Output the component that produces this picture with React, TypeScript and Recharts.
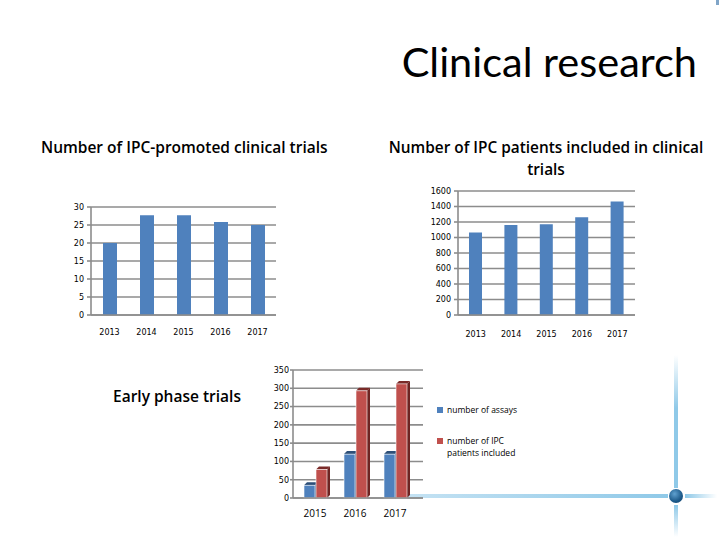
import React from 'react';
import { BarChart, Bar, XAxis, YAxis, CartesianGrid, Legend } from 'recharts';

const years1 = ['2013', '2014', '2015', '2016', '2017'];
const trials = [20, 27.7, 27.7, 25.8, 25];
const ticks1 = [0, 5, 10, 15, 20, 25, 30];

const years2 = ['2013', '2014', '2015', '2016', '2017'];
const patients = [1065, 1160, 1170, 1260, 1465];
const ticks2 = [0, 200, 400, 600, 800, 1000, 1200, 1400, 1600];

const years3 = ['2015', '2016', '2017'];
const assays = [35, 120, 120];
const earlyPatients = [78, 293, 312];
const ticks3 = [0, 50, 100, 150, 200, 250, 300, 350];
const seriesNames3 = ['number of assays', 'number of IPC patients included'];

const data1 = years1.map((y, i) => ({ year: y, v: trials[i] }));
const data2 = years2.map((y, i) => ({ year: y, v: patients[i] }));
const data3 = years3.map((y, i) => ({ year: y, a: assays[i], p: earlyPatients[i] }));

const BLUE = '#4f81bd';
const RED = '#c0504d';
const GRID = '#8c8c8c';
const tickFont = { fontFamily: 'DejaVu Sans', fontSize: 8, fill: '#000' };

const make3D = (fill: string, side: string, top: string) => (props: any) => {
  const { x, y, width, height } = props;
  if (!height || height <= 0) return <g />;
  const d = 3;
  return (
    <g>
      <polygon points={`${x},${y} ${x + d},${y - d} ${x + width + d},${y - d} ${x + width},${y}`} fill={top} />
      <polygon points={`${x + width},${y} ${x + width + d},${y - d} ${x + width + d},${y + height - d} ${x + width},${y + height}`} fill={side} />
      <rect x={x} y={y} width={width} height={height} fill={fill} stroke="#ffffff" strokeWidth={0.6} />
    </g>
  );
};

const BlueShape = make3D(BLUE, '#2d4f78', '#2d4f78');
const RedShape = make3D(RED, '#6e2422', '#7a2a28');

const renderLegend = (props: any) => {
  const payload = [...(props.payload || [])].sort(
    (a: any, b: any) => seriesNames3.indexOf(a.value) - seriesNames3.indexOf(b.value)
  );
  return (
    <div style={{ fontFamily: 'Open Sans', fontSize: 8.5, color: '#000' }}>
      {payload.map((e: any, i: number) => (
        <div key={i} style={{ display: 'flex', alignItems: 'flex-start', marginBottom: 19, width: 90 }}>
          <span style={{ display: 'inline-block', width: 6, height: 6, background: e.color, marginTop: 3, marginRight: 4, flexShrink: 0 }} />
          <span style={{ lineHeight: '12px', width: 72 }}>{e.value}</span>
        </div>
      ))}
    </div>
  );
};

export default function App() {
  return (
    <div style={{ position: 'absolute', left: 0, top: 0, width: 720, height: 540, background: '#fff', overflow: 'hidden' }}>
      <div style={{ position: 'absolute', right: 23, top: 36, fontFamily: 'Lato', fontSize: 41.5, color: '#000', lineHeight: '50px', whiteSpace: 'nowrap' }}>
        Clinical research
      </div>
      <div style={{ position: 'absolute', left: 41, top: 137, fontFamily: 'Open Sans', fontWeight: 600, fontSize: 15.5, lineHeight: '20px', whiteSpace: 'nowrap' }}>
        Number of IPC-promoted clinical trials
      </div>
      <div style={{ position: 'absolute', left: 366, width: 360, top: 137, fontFamily: 'Open Sans', fontWeight: 600, fontSize: 15.4, lineHeight: '22px', textAlign: 'center' }}>
        Number of IPC patients included in clinical<br />trials
      </div>
      <div style={{ position: 'absolute', left: 113, top: 386, fontFamily: 'Open Sans', fontWeight: 600, fontSize: 15.5, lineHeight: '20px', whiteSpace: 'nowrap' }}>
        Early phase trials
      </div>

      <div style={{ position: 'absolute', left: 41, top: 197 }}>
        <BarChart width={245} height={145} data={data1} margin={{ top: 10, right: 10, left: 0, bottom: 0 }}>
          <CartesianGrid vertical={false} stroke={GRID} strokeWidth={1.6} />
          <XAxis dataKey="year" height={27} tick={tickFont} tickLine={false} axisLine={{ stroke: GRID, strokeWidth: 1.6 }} tickMargin={8} />
          <YAxis domain={[0, 30]} ticks={ticks1} width={50} tick={tickFont} tickSize={4} tickMargin={3} tickLine={{ stroke: GRID, strokeWidth: 1.6 }} axisLine={{ stroke: GRID, strokeWidth: 1.6 }} interval={0} />
          <Bar dataKey="v" fill={BLUE} barSize={14} isAnimationActive={false} />
        </BarChart>
      </div>

      <div style={{ position: 'absolute', left: 408, top: 181 }}>
        <BarChart width={237} height={161} data={data2} margin={{ top: 10, right: 10, left: 0, bottom: 0 }}>
          <CartesianGrid vertical={false} stroke={GRID} strokeWidth={1.6} />
          <XAxis dataKey="year" height={27} tick={tickFont} tickLine={false} axisLine={{ stroke: GRID, strokeWidth: 1.6 }} tickMargin={10} />
          <YAxis domain={[0, 1600]} ticks={ticks2} width={50} tick={tickFont} tickSize={4} tickMargin={3} tickLine={{ stroke: GRID, strokeWidth: 1.6 }} axisLine={{ stroke: GRID, strokeWidth: 1.6 }} interval={0} />
          <Bar dataKey="v" fill={BLUE} barSize={13} isAnimationActive={false} />
        </BarChart>
      </div>

      {/* decorative lines (behind chart 3) */}
      <div style={{ position: 'absolute', left: 674, top: 355, width: 4, height: 133, background: 'linear-gradient(to bottom, rgba(160,210,236,0), #8fc9e8 40%, #8fc9e8)' }} />
      <div style={{ position: 'absolute', left: 674, top: 505, width: 4, height: 32, background: 'linear-gradient(to bottom, #8fc9e8, rgba(160,210,236,0))' }} />
      <div style={{ position: 'absolute', left: 408, top: 494, width: 260, height: 4, background: 'linear-gradient(to right, #c4e2f3, #8fc9e8)' }} />
      <div style={{ position: 'absolute', left: 685, top: 494, width: 32, height: 4, background: 'linear-gradient(to right, #8fc9e8, rgba(160,210,236,0))' }} />
      <div style={{ position: 'absolute', left: 669, top: 489, width: 14, height: 14, borderRadius: 7, background: 'radial-gradient(circle at 40% 35%, #5fa0cf, #1d5a8a 60%, #123f66)' }} />
      <div style={{ position: 'absolute', left: 716, top: 0, width: 3, height: 5, background: '#4a7fb0', opacity: 0.7 }} />

      <div style={{ position: 'absolute', left: 243, top: 360 }}>
        <BarChart width={320} height={160} data={data3} margin={{ top: 10, right: 140, left: 0, bottom: 0 }} barGap={1}>
          <CartesianGrid vertical={false} stroke={GRID} strokeWidth={1.6} />
          <XAxis dataKey="year" height={22} tick={{ fontFamily: 'Open Sans', fontSize: 10, fill: '#000' }} tickLine={false} axisLine={{ stroke: GRID, strokeWidth: 1.6 }} tickMargin={6} padding={{ left: 2, right: 8 }} />
          <YAxis domain={[0, 350]} ticks={ticks3} width={50} tick={tickFont} tickSize={3} tickMargin={1} tickLine={{ stroke: GRID, strokeWidth: 1.6 }} axisLine={{ stroke: GRID, strokeWidth: 1.6 }} interval={0} />
          <Legend layout="vertical" align="center" verticalAlign="middle" content={renderLegend} wrapperStyle={{ left: 194, top: 44, width: 100 }} />
          <Bar dataKey="a" name={seriesNames3[0]} fill={BLUE} barSize={11} shape={BlueShape} isAnimationActive={false} />
          <Bar dataKey="p" name={seriesNames3[1]} fill={RED} barSize={11} shape={RedShape} isAnimationActive={false} />
        </BarChart>
      </div>
    </div>
  );
}
